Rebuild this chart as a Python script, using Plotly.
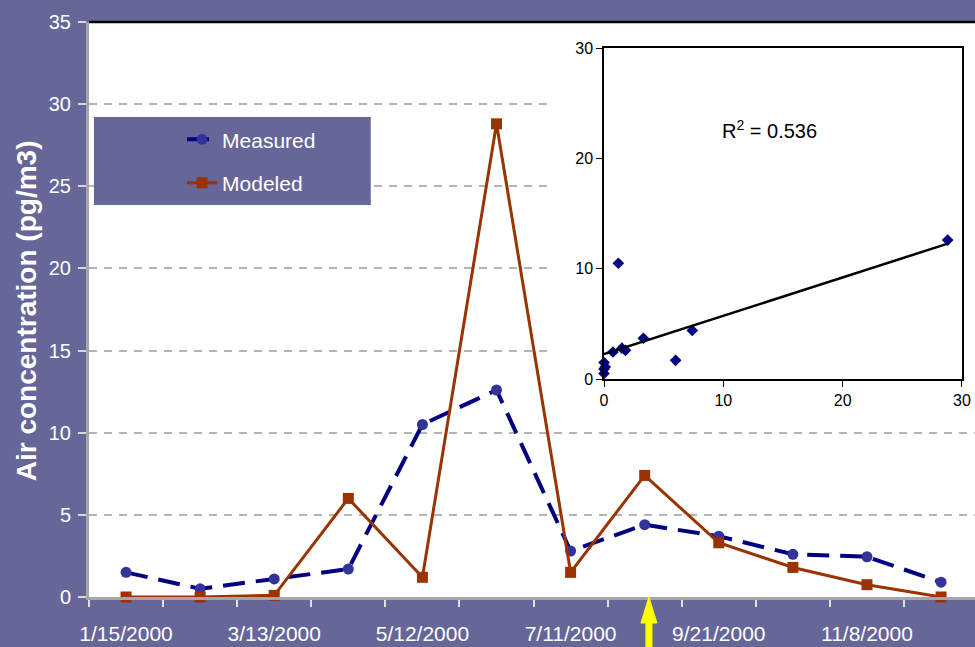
import numpy as np
import plotly.graph_objects as go

# ---- data ----
dates = ["1/15/2000", "2/14/2000", "3/13/2000", "4/12/2000", "5/12/2000", "6/11/2000",
         "7/11/2000", "8/16/2000", "9/21/2000", "10/15/2000", "11/8/2000", "12/8/2000"]
measured = [1.5, 0.5, 1.1, 1.7, 10.5, 12.6, 2.8, 4.4, 3.7, 2.6, 2.45, 0.9]
modeled = [0.0, 0.0, 0.1, 6.0, 1.2, 28.8, 1.5, 7.4, 3.3, 1.8, 0.75, 0.0]
r2_label = "R<sup>2</sup> = 0.536"
y_ticks = [0, 5, 10, 15, 20, 25, 30, 35]
inset_ticks = [0, 10, 20, 30]

idx = list(range(len(dates)))
label_idx = idx[::2]
label_txt = dates[::2]

# trend line (linear fit of measured vs modeled)
slope, intercept = np.polyfit(modeled, measured, 1)
fit_x = [0.0, max(modeled)]
fit_y = [intercept + slope * v for v in fit_x]

BG = "#666699"
FONT = "Liberation Sans, Arial, sans-serif"

fig = go.Figure()

fig.add_trace(go.Scatter(
    x=idx, y=measured, name="Measured", mode="lines+markers",
    line=dict(color="#000080", width=4, dash="22px,11px"),
    marker=dict(symbol="circle", size=11, color="#333399"),
    cliponaxis=False, legendgroup="a", xaxis="x", yaxis="y"))
fig.add_trace(go.Scatter(
    x=idx, y=modeled, name="Modeled", mode="lines+markers",
    line=dict(color="#993300", width=3),
    marker=dict(symbol="square", size=11, color="#993300"),
    cliponaxis=False, legendgroup="b", xaxis="x", yaxis="y"))

# empty trace that creates the white panel subplot behind the inset
fig.add_trace(go.Scatter(x=[], y=[], showlegend=False, xaxis="x2", yaxis="y2",
                         hoverinfo="skip"))

# inset scatter
fig.add_trace(go.Scatter(
    x=modeled, y=measured, mode="markers", showlegend=False,
    marker=dict(symbol="diamond", size=9, color="#000080"),
    xaxis="x3", yaxis="y3", cliponaxis=False))
fig.add_trace(go.Scatter(
    x=fit_x, y=fit_y, mode="lines", showlegend=False,
    line=dict(color="black", width=2.5), xaxis="x3", yaxis="y3"))

fig.update_layout(
    width=975, height=647, autosize=False,
    margin=dict(l=89, r=0, t=22, b=50, autoexpand=False),
    paper_bgcolor=BG, plot_bgcolor="white",
    font=dict(family=FONT, color="white"),
    showlegend=True,
    legend=dict(x=0.105, y=0.831, xanchor="left", yanchor="top",
                bgcolor="rgba(0,0,0,0)", font=dict(size=21, color="white"),
                tracegroupgap=13),
    xaxis=dict(
        range=[-0.5, 11.458], showgrid=False, zeroline=False, automargin=False,
        tickmode="array", tickvals=label_idx, ticktext=label_txt,
        ticks="outside", ticklen=16, tickcolor="rgba(0,0,0,0)",
        tickfont=dict(size=21, color="white"),
        showline=True, linecolor="#A6A6A6", linewidth=3,
        minor=dict(ticks="outside", tick0=-0.5, dtick=1, ticklen=7,
                   tickcolor="#E0E0E0", tickwidth=2, showgrid=False),
    ),
    yaxis=dict(
        range=[0, 35], tickvals=y_ticks, zeroline=False, automargin=False,
        showgrid=True, gridcolor="#B4B4B4", gridwidth=1.5, griddash="8px,7px",
        ticks="outside", ticklen=8, tickcolor="#D8D8D8", tickwidth=2,
        tickfont=dict(size=20, color="white"), ticklabelstandoff=3,
        showline=True, linecolor="#A6A6A6", linewidth=3,
    ),
    xaxis2=dict(domain=[0.5214, 1.0], anchor="y2", range=[0, 1], visible=False,
                showgrid=False, zeroline=False, automargin=False),
    yaxis2=dict(domain=[0.334, 0.997], anchor="x2", range=[0, 1], visible=False,
                showgrid=False, zeroline=False, automargin=False),
    xaxis3=dict(
        domain=[0.5813, 0.9853], anchor="y3", range=[0, 30], tickvals=inset_ticks,
        showgrid=False, zeroline=False, showline=True, mirror=True, automargin=False,
        linecolor="black", linewidth=1.5, ticks="outside", ticklen=6,
        tickcolor="black", tickfont=dict(size=16, color="black"),
    ),
    yaxis3=dict(
        domain=[0.3791, 0.9543], anchor="x3", range=[0, 30], tickvals=inset_ticks,
        showgrid=False, zeroline=False, showline=True, mirror=True, automargin=False,
        linecolor="black", linewidth=1.5, ticks="outside", ticklen=6,
        tickcolor="black", tickfont=dict(size=16, color="black"),
    ),
    shapes=[
        # legend box
        dict(type="rect", xref="paper", yref="paper", x0=0.0056, x1=0.318, y0=0.6817, y1=0.8348,
             fillcolor=BG, line=dict(width=0), layer="above"),
        # top border
        dict(type="line", xref="paper", yref="paper", x0=0, x1=1.03, y0=1, y1=1,
             line=dict(color="black", width=2.5), layer="above"),
        # yellow arrow
        dict(type="path", xref="paper", yref="paper", xsizemode="pixel", ysizemode="pixel",
             xanchor=0.632, yanchor=0,
             path="M0,0 L8,-26 L3,-26 L3,-60 L-3,-60 L-3,-26 L-8,-26 Z",
             fillcolor="#FFFF00", line=dict(color="#FFFF00", width=1), layer="above"),
    ],
    annotations=[
        dict(text="<b>Air concentration (pg/m3)</b>", xref="paper", yref="paper",
             x=-0.0711, y=0.497, xanchor="center", yanchor="middle", textangle=-90,
             showarrow=False, font=dict(size=28, color="white", family=FONT)),
        dict(text=r2_label, xref="x3", yref="y3", x=13.9, y=22.6,
             xanchor="center", yanchor="middle", showarrow=False,
             font=dict(size=20, color="black", family=FONT)),
    ],
)

fig.write_html("out.html", config={"displayModeBar": False},
               post_script="document.body.style.margin='0';")
